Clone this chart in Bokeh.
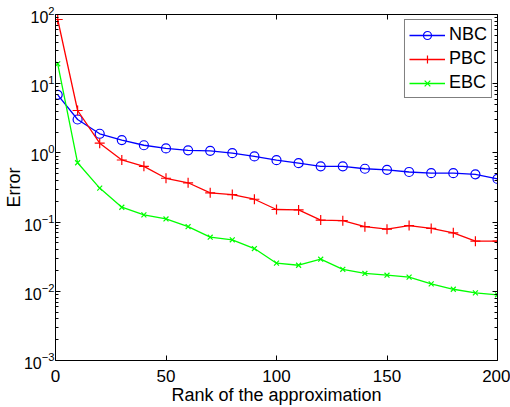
from bokeh.plotting import figure
from bokeh.models import (Range1d, LinearAxis, LogAxis, FixedTicker,
                          CustomJSTickFormatter, Legend, LegendItem)
from bokeh.embed import file_html
from bokeh.resources import INLINE

# Approximation error versus rank for three boundary conditions
rank = [1, 10, 20, 30, 40, 50, 60, 70, 80, 90, 100,
        110, 120, 130, 140, 150, 160, 170, 180, 190, 200]
nbc = [6.9, 3.04, 1.89, 1.53, 1.29, 1.16, 1.09, 1.07, 0.99, 0.89, 0.785,
       0.71, 0.64, 0.64, 0.59, 0.57, 0.53, 0.51, 0.51, 0.49, 0.42]
pbc = [84.7, 4.1, 1.38, 0.79, 0.64, 0.43, 0.37, 0.265, 0.25, 0.214, 0.152,
       0.15, 0.107, 0.105, 0.086, 0.079, 0.089, 0.081, 0.070, 0.053, 0.053]
ebc = [19.4, 0.72, 0.31, 0.164, 0.127, 0.111, 0.086, 0.0605, 0.0555, 0.0415, 0.0255,
       0.0238, 0.0291, 0.0208, 0.0181, 0.0171, 0.016, 0.0128, 0.0107, 0.0095, 0.0089]

x_ticks = [0, 50, 100, 150, 200]
y_exponents = [-3, -2, -1, 0, 1, 2]

FONT = "Liberation Sans"

p = figure(width=510, height=407,
           x_range=Range1d(0, 200), y_range=Range1d(1e-3, 1e2),
           y_axis_type="log", output_backend="svg", toolbar_location=None,
           min_border_left=55, min_border_right=13,
           min_border_top=14, min_border_bottom=47)
p.xgrid.visible = False
p.ygrid.visible = False
p.outline_line_color = None
p.background_fill_color = "white"

y_major = [10.0 ** e for e in y_exponents]
y_minor = [k * 10.0 ** e for e in y_exponents[:-1] for k in range(2, 10)]
x_ticker = FixedTicker(ticks=x_ticks, minor_ticks=[])
y_ticker = FixedTicker(ticks=y_major, minor_ticks=y_minor)
blank = CustomJSTickFormatter(code="return ''")


def style_axis(ax):
    ax.axis_line_color = "black"
    ax.axis_line_width = 1
    ax.major_tick_line_color = "black"
    ax.minor_tick_line_color = "black"
    ax.major_tick_in = 5
    ax.major_tick_out = 0
    ax.minor_tick_in = 3
    ax.minor_tick_out = 0


# bottom axis
xa = p.xaxis[0]
xa.ticker = x_ticker
style_axis(xa)
xa.major_label_text_font = FONT
xa.major_label_text_font_size = "17px"
xa.major_label_text_color = "black"
xa.major_label_standoff = 9
xa.axis_label = "Rank of the approximation"
xa.axis_label_text_font = FONT
xa.axis_label_text_font_size = "18px"
xa.axis_label_text_font_style = "normal"
xa.axis_label_text_color = "black"
xa.axis_label_standoff = 0

# left axis: powers of ten
ya = p.yaxis[0]
ya.ticker = y_ticker
style_axis(ya)
ya.major_label_text_font = FONT
ya.major_label_text_font_size = "16px"
ya.major_label_text_color = "black"
ya.major_label_standoff = 1
ya.axis_label = "Error"
ya.axis_label_text_font = FONT
ya.axis_label_text_font_size = "18px"
ya.axis_label_text_font_style = "normal"
ya.axis_label_text_color = "black"
ya.axis_label_standoff = -3

# box axes on top and right
top = LinearAxis(ticker=x_ticker, formatter=blank)
style_axis(top)
top.major_label_text_font_size = "1px"
top.major_label_standoff = 0
p.add_layout(top, "above")

right = LogAxis(ticker=y_ticker, formatter=blank)
style_axis(right)
right.major_label_text_font_size = "1px"
right.major_label_standoff = 0
p.add_layout(right, "right")

series = [
    ("NBC", nbc, "#0000ff", "circle", 9),
    ("PBC", pbc, "#ff0000", "cross", 10),
    ("EBC", ebc, "#00ff00", "x", 7),
]
items = []
for name, vals, color, marker, size in series:
    ln = p.line(rank, vals, line_color=color, line_width=1.3)
    sc = p.scatter(rank, vals, marker=marker, size=size, line_color=color,
                   fill_color=None, line_width=1.2)
    items.append(LegendItem(label=name, renderers=[ln, sc]))

legend = Legend(items=items, location="top_right")
legend.label_text_font = FONT
legend.label_text_font_size = "18px"
legend.label_text_color = "black"
legend.border_line_color = "black"
legend.border_line_width = 1.5
legend.background_fill_color = "white"
legend.background_fill_alpha = 1
legend.glyph_width = 36
legend.glyph_height = 20
legend.label_height = 20
legend.label_standoff = 4
legend.spacing = 3
legend.padding = 4
legend.margin = 5
p.add_layout(legend)

open("out.html", "w").write(file_html(p, INLINE))
